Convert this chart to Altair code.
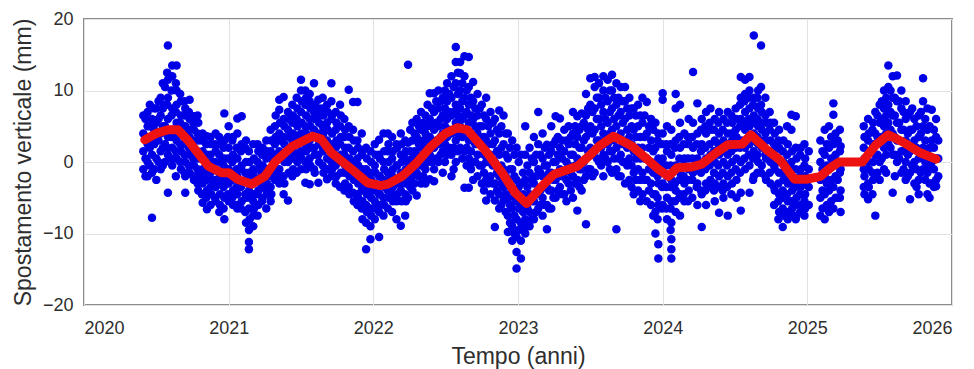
import altair as alt
import pandas as pd

# GNSS vertical displacement: daily solutions grouped by epoch (decimal year, [mm, ...])
pts_2020 = [
    (2020.41, [6.5, 4, 1.5, -1]),
    (2020.44, [7, 5, 2.5, 0, -2]),
    (2020.47, [6, 3.5, 1, -1.5, -7.8]),
    (2020.50, [7.5, 5.5, 3, 0.5, -2.5]),
    (2020.53, [9, 6.5, 4, 1.5, -1]),
    (2020.56, [10.5, 8, 5, 2.5, 0]),
    (2020.58, [16.3, 11.5, 9, 6, 3.5, 1, -4.3]),
    (2020.61, [13.5, 12, 7.5, 4.5, 2, -0.5]),
    (2020.64, [13.5, 10, 8, 5.5, 3, 0.5]),
    (2020.67, [8.5, 6.5, 4, 1.5, -1]),
    (2020.70, [7.5, 5, 2.5, 0, -2, -4.3]),
    (2020.73, [8.7, 6, 3.5, 1, -1.5]),
    (2020.76, [6.4, 4.5, 2, -0.5, -2.5]),
    (2020.79, [5.5, 3, 0.5, -2, -4]),
    (2020.82, [4, 1.5, -1, -3, -5.7]),
    (2020.85, [3.6, 1, -1.5, -4, -6.6]),
    (2020.88, [2.5, 0, -2.5, -4.5]),
    (2020.91, [4, 1.5, -1, -3.5, -5.5]),
    (2020.94, [2.5, 0, -2, -4.5, -6]),
    (2020.97, [6.8, 3, 0.5, -2.5, -5, -8]),
]
pts_2020b = [
    (2020.425, [6, 3.5, 0.5, -2]),
    (2020.455, [8, 5, 2, -0.5]),
    (2020.485, [7.5, 4.5, 2.5, -1]),
    (2020.515, [8.5, 6, 3, 0]),
    (2020.545, [11, 7.5, 5, 2, -0.5]),
    (2020.575, [12.5, 8, 4.5, 2]),
    (2020.605, [10, 6.5, 3.5, 0.5]),
    (2020.635, [11, 7, 4, 1.5, -2]),
    (2020.665, [9.5, 5.5, 2.5, 0]),
    (2020.695, [8.5, 6.5, 3.5, 1, -1.5]),
    (2020.725, [7, 4.5, 2, -0.5]),
    (2020.755, [5.5, 3, 0.5, -2]),
    (2020.785, [6.5, 4, 1.5, -1, -3]),
    (2020.815, [3, 0.5, -2, -4.5]),
    (2020.845, [2.5, 0, -2.5, -5]),
    (2020.875, [3.5, 1, -1.5, -3.5, -6]),
    (2020.905, [2.5, 0, -2.5, -5]),
    (2020.935, [3.5, 1, -1.5, -3, -7]),
    (2020.965, [2, -0.5, -3.5, -6.5]),
    (2020.995, [3.5, 0.5, -2, -4.5]),
]

pts_2021 = [
    (2021.00, [5, 2, -1, -3, -5.5]),
    (2021.03, [3.5, 1, -1.5, -4, -6]),
    (2021.06, [6.1, 4, 0.5, -2, -4.5, -6.5]),
    (2021.09, [6.4, 2.5, -0.5, -3, -5.5]),
    (2021.12, [3, 0, -2.5, -5, -8.5]),
    (2021.14, [1.5, -1.5, -4, -6.5, -9.5, -11.2, -12.2]),
    (2021.17, [2.5, -1, -3, -5.5, -7.5, -9]),
    (2021.20, [2.5, 0, -2.5, -4.5, -7.5]),
    (2021.23, [1, -1.5, -3.5, -5.5]),
    (2021.26, [3, 0.5, -2, -4, -6.5]),
    (2021.29, [4.5, 1.5, -1, -3.5, -5.5]),
    (2021.32, [5, 2.5, 0, -2.5]),
    (2021.35, [8.7, 7.3, 4, 1.5, -1, -3]),
    (2021.38, [9.1, 6, 3.5, 1, -2, -4.5]),
    (2021.41, [7, 4.5, 2, 0, -5.4]),
    (2021.44, [8, 5.5, 3, 0.5, -2]),
    (2021.47, [9, 6, 3.5, 1, -1.5]),
    (2021.50, [11.5, 10, 7, 4, 1.5, -1]),
    (2021.53, [10, 8, 5, 2.5, 0, -2.9]),
    (2021.56, [9.5, 8.5, 6, 3, 0.5, -3.1]),
    (2021.59, [11, 7, 4.5, 2, -1]),
    (2021.62, [8.7, 6.5, 4, 1, -2.9]),
    (2021.65, [9, 7.5, 5, 2, -0.5]),
    (2021.68, [8, 5.5, 3, 0.5, -2.4]),
    (2021.71, [11, 8.5, 6, 2.5, 0, -2]),
    (2021.74, [7, 4.5, 2, -0.5, -3]),
    (2021.77, [8, 5, 2.5, 0, -3.5]),
    (2021.80, [6, 3.5, 1, -1.5, -4]),
    (2021.83, [10.1, 5, 2, -1, -3.5]),
    (2021.86, [8.4, 4.5, 1.5, -1.5, -4.3]),
    (2021.89, [8.4, 3, 0.5, -2, -4.5, -6]),
    (2021.92, [4, 1, -2, -4, -6.5]),
    (2021.95, [2, -1, -3.5, -6, -8.5, -12.2]),
    (2021.98, [1.5, -1.5, -4, -6.5, -9, -10.8]),
]
pts_2021b = [
    (2021.025, [3, 0, -2.5, -5]),
    (2021.055, [2, -1, -3.5, -6]),
    (2021.085, [1.5, -1, -3.5, -6.5]),
    (2021.115, [2, -1.5, -4.5, -7]),
    (2021.145, [0, -2.5, -5, -8]),
    (2021.175, [0.5, -2, -4.5, -6.5]),
    (2021.205, [1.5, -1, -4, -6]),
    (2021.235, [2, -0.5, -3, -5]),
    (2021.265, [1.5, -1, -3, -4.5]),
    (2021.295, [3, 0.5, -2, -4.5]),
    (2021.325, [6.5, 3.5, 1, -1.5]),
    (2021.355, [5.5, 3, 0.5, -2]),
    (2021.385, [5, 2.5, 0, -3]),
    (2021.415, [6, 3.5, 1, -1.5]),
    (2021.445, [6.5, 4, 1.5, -1]),
    (2021.475, [7.5, 5, 2.5, 0]),
    (2021.505, [8.5, 5.5, 3, 0.5]),
    (2021.535, [9, 6.5, 4, 1.5, -1]),
    (2021.565, [7.5, 5, 2, -0.5]),
    (2021.595, [8, 6, 3.5, 1, -1.5]),
    (2021.625, [7.5, 5.5, 2.5, 0]),
    (2021.655, [6.5, 4, 1.5, -1.5]),
    (2021.685, [7, 4.5, 2, -1]),
    (2021.715, [6.5, 4, 1.5, -1]),
    (2021.745, [5.5, 3, 0.5, -2]),
    (2021.775, [6.5, 3.5, 1, -1.5]),
    (2021.805, [4.5, 2, -0.5, -3]),
    (2021.835, [3.5, 0.5, -2, -4.5]),
    (2021.865, [3, 0, -2.5, -5.5]),
    (2021.895, [2, -0.5, -3, -5]),
    (2021.925, [1.5, -1, -3.5, -5.5, -8]),
    (2021.955, [0.5, -2, -4.5, -7]),
    (2021.985, [0, -2.5, -5, -7.5]),
]

pts_2022 = [
    (2022.01, [2.5, -0.5, -3, -5.5, -8]),
    (2022.04, [3.1, 1, -2, -4.5, -7, -10.5]),
    (2022.07, [4, 0, -2.5, -5, -7.5]),
    (2022.10, [4, 1.5, -1.5, -4, -6.5]),
    (2022.13, [3.5, 0.5, -2, -4.5, -7]),
    (2022.16, [2.5, -0.5, -3, -5.5, -8]),
    (2022.19, [4, 1, -1.5, -4, -8.9]),
    (2022.22, [3, 0.5, -2, -4.5, -7.5]),
    (2022.24, [13.6, 2.7, 0, -2.5, -5]),
    (2022.27, [5.5, 3, 0.5, -2, -4]),
    (2022.30, [6, 3.5, 1, -1.5, -4.7]),
    (2022.33, [7, 4.5, 2, -0.5, -3]),
    (2022.36, [6.5, 4, 1.5, -1, -3]),
    (2022.39, [9.6, 6, 3.5, 1, -2.4]),
    (2022.42, [9.6, 7, 4.5, 2, -1, -2.7]),
    (2022.45, [10, 7.5, 5, 2.5, 0]),
    (2022.48, [9, 6.5, 4, 1.5, -1.5]),
    (2022.51, [11, 8.5, 6, 3.5, 1]),
    (2022.54, [12, 9, 6.5, 4, 1, -2]),
    (2022.57, [16.1, 14, 11, 8, 5.5, 3, 0]),
    (2022.60, [14, 12.4, 10, 7.5, 5, 2]),
    (2022.63, [14.8, 12, 9, 6.5, 4, 1.5, -3.6]),
    (2022.66, [14.7, 10.5, 8, 5.5, 3, 0.5, -3.6]),
    (2022.69, [11.2, 8.5, 6, 3, 0, -2.5]),
    (2022.72, [9.5, 6.5, 4, 1, -2]),
    (2022.75, [8, 5, 2.5, -0.5, -3]),
    (2022.78, [9, 6, 3, 0, -2.5, -5.4]),
    (2022.81, [7, 4, 1, -2, -4.5]),
    (2022.84, [6, 3, 0, -3, -5.4, -9.1]),
    (2022.87, [7.2, 4, 1, -2, -4.5, -6.5]),
    (2022.90, [6.5, 2.5, -1, -3.5, -5.4]),
    (2022.93, [4, 0.5, -2.5, -5, -7.5, -9.8]),
    (2022.96, [3, -1, -4, -6.5, -9, -11]),
    (2022.99, [2, -2.5, -5.5, -8, -10.5, -12.6, -14.9]),
]
pts_2022b = [
    (2022.015, [1, -1.5, -4, -6.5]),
    (2022.045, [0.5, -2, -4.5, -6]),
    (2022.075, [1.5, -1, -3.5, -6]),
    (2022.105, [2.5, 0, -2.5, -5]),
    (2022.135, [1.5, -1, -3.5, -5.5]),
    (2022.165, [2, -0.5, -2.5, -4.5]),
    (2022.195, [2.5, 0, -3, -5.5]),
    (2022.225, [1.5, -1, -3, -5.5]),
    (2022.255, [4.5, 1.5, -1, -3.5]),
    (2022.285, [4, 1.5, -1, -3]),
    (2022.315, [5, 2.5, 0, -2]),
    (2022.345, [5.5, 3, 0.5, -2]),
    (2022.375, [8, 5, 2.5, 0]),
    (2022.405, [7.5, 5, 2.5, 0]),
    (2022.435, [8.5, 5.5, 3, 0.5]),
    (2022.465, [8.5, 6, 3.5, 1]),
    (2022.495, [10, 7.5, 5, 2.5, 0]),
    (2022.525, [9.5, 7, 4.5, 2]),
    (2022.555, [10.5, 7, 4.5, 2, -1]),
    (2022.585, [12.5, 9.5, 6.5, 4, 1.5]),
    (2022.615, [11, 8.5, 6, 3.5, 0.5]),
    (2022.645, [10, 7, 4.5, 2, -0.5]),
    (2022.675, [9, 6.5, 4, 1.5, -1]),
    (2022.705, [7.5, 5, 2.5, 0]),
    (2022.735, [7.5, 5, 2.5, -0.5]),
    (2022.765, [6.5, 3.5, 1, -1.5, -4]),
    (2022.795, [5, 2.5, 0, -3]),
    (2022.825, [5.5, 2.5, -0.5, -3]),
    (2022.855, [4.5, 1.5, -1.5, -4]),
    (2022.885, [5, 2, -0.5, -3, -6]),
    (2022.915, [4, 1, -2, -4.5, -7]),
    (2022.945, [2, -1, -3.5, -6, -8.5]),
    (2022.975, [1, -2, -5, -7.5, -10]),
]

pts_2023 = [
    (2023.02, [1, -3, -6, -8.5, -11, -13.5]),
    (2023.05, [5, 1, -2.5, -5.5, -8, -10]),
    (2023.08, [2, -1.5, -4.5, -7, -9]),
    (2023.11, [3.5, 0, -3, -5.5, -8]),
    (2023.14, [7, 2.5, -1, -4, -6.5]),
    (2023.17, [4, 0.5, -2, -5, -7.5]),
    (2023.20, [2.4, -0.5, -3.5, -6, -9.4]),
    (2023.23, [5, 1.5, -1.5, -4, -6.5]),
    (2023.26, [6.4, 3, 0, -2.5, -5]),
    (2023.29, [6.1, 2, -1, -3.5]),
    (2023.32, [4.5, 1.5, -1.5, -4.5]),
    (2023.35, [5, 2.5, -0.5, -3]),
    (2023.38, [7, 4, 1, -2, -5]),
    (2023.41, [6.4, 3.5, 0.5, -2.5, -6.8]),
    (2023.44, [6.8, 5, 2, -1, -4]),
    (2023.47, [9.5, 6.5, 3.5, 0.5, -2, -8.7]),
    (2023.50, [11.7, 8, 5, 2, -1]),
    (2023.53, [11.9, 10.5, 7.5, 4.5, 1.5, -1.5]),
    (2023.56, [11, 9, 6, 3, 0]),
    (2023.59, [12, 10, 7, 4, 1, -2]),
    (2023.62, [11.5, 8.5, 5.5, 2.5, 0]),
    (2023.65, [12.2, 10, 7.5, 4.5, 1.5, -1.5]),
    (2023.68, [11, 8, 5, 2, -1, -9.4]),
    (2023.71, [10.5, 7, 4, 1, -2]),
    (2023.74, [10.5, 8.5, 6, 3, 0, -3]),
    (2023.77, [9, 6.5, 3.5, 0.5, -2.5]),
    (2023.80, [7.5, 4.5, 1.5, -1.5, -4.5]),
    (2023.83, [8, 5, 2, -1, -4]),
    (2023.86, [9, 5.5, 2, -1.5, -4.5]),
    (2023.89, [8.4, 4, 0.5, -2.5, -5.5]),
    (2023.92, [6, 3, 0, -3, -6]),
    (2023.95, [5.5, 2, -1.5, -4.5, -7, -10]),
    (2023.97, [4, 0.5, -3, -6, -11.5, -13.5]),
]
pts_2023b = [
    (2023.005, [0, -3.5, -6.5, -9.5]),
    (2023.035, [-1.5, -4.5, -7, -9.5]),
    (2023.065, [-0.5, -3.5, -6.5, -9]),
    (2023.095, [0.5, -2.5, -5.5, -8]),
    (2023.125, [1, -2, -4.5, -7]),
    (2023.155, [1, -1.5, -4, -6]),
    (2023.185, [2, -0.5, -3.5, -6]),
    (2023.215, [1, -1.5, -4, -6.5]),
    (2023.245, [2.5, 0, -2.5, -5]),
    (2023.275, [3.5, 1, -1.5, -4]),
    (2023.305, [3, 0.5, -2, -4.5]),
    (2023.335, [3, 0, -2.5, -5.5]),
    (2023.365, [3.5, 1, -1.5, -4]),
    (2023.395, [5, 2.5, -0.5, -3]),
    (2023.425, [4.5, 2, -1, -3.5]),
    (2023.455, [5.5, 3, 0, -2.5]),
    (2023.485, [7.5, 4.5, 1.5, -1]),
    (2023.515, [7, 4, 1, -2]),
    (2023.545, [9, 6, 3, 0.5]),
    (2023.575, [8, 5, 2, -0.5]),
    (2023.605, [9, 6, 3, 0.5]),
    (2023.635, [10, 7, 4, 1.5, -1]),
    (2023.665, [9, 6, 3, 0.5]),
    (2023.695, [9, 6.5, 3.5, 0.5, -2]),
    (2023.725, [8.5, 5.5, 2.5, 0]),
    (2023.755, [7.5, 4.5, 2, -0.5]),
    (2023.785, [7.5, 5, 2.5, -0.5, -3.5]),
    (2023.815, [6.5, 3.5, 0.5, -2.5]),
    (2023.845, [6.5, 3.5, 0.5, -2.5, -5.5]),
    (2023.875, [6.5, 3.5, 0.5, -2.5]),
    (2023.905, [5, 2, -1, -4]),
    (2023.935, [4.5, 1.5, -1.5, -4.5, -7.5]),
    (2023.965, [3, 0, -2, -5, -8]),
    (2023.995, [2.5, -0.5, -3.5, -6.5]),
]

pts_2024 = [
    (2024.00, [9.6, 8.7, 4, 0.5, -3, -6]),
    (2024.03, [5, 1.5, -2, -5, -8]),
    (2024.06, [4.5, 1, -2.5, -5.5, -8.5, -10.8, -12.2, -13.5]),
    (2024.09, [9.5, 7.5, 3, -0.5, -4, -7]),
    (2024.12, [8, 5.5, 2, -1.5, -4.5, -7.5]),
    (2024.15, [4, 0.5, -3, -5.5]),
    (2024.18, [6, 2.5, -1, -4]),
    (2024.21, [12.6, 5.5, 2, -1.5]),
    (2024.24, [8.2, 4, 0.5, -3, -6]),
    (2024.27, [6, 2.5, -1, -4.5, -9.1]),
    (2024.30, [7, 4, 0.5, -3, -6]),
    (2024.33, [7.5, 4.5, 1, -2.5]),
    (2024.36, [6, 3, 0, -3, -5.5]),
    (2024.39, [7, 4, 1, -2, -7.1]),
    (2024.42, [6, 3, 0, -3, -5]),
    (2024.45, [7, 4, 1, -2, -7.5]),
    (2024.48, [5.5, 3, 0, -3]),
    (2024.51, [6, 3.5, 0.5, -2.5, -5]),
    (2024.54, [11.9, 9, 6, 3, 0, -4.3, -6.8]),
    (2024.57, [11.5, 9.5, 7, 4.5, 2, -1]),
    (2024.60, [11.9, 10, 7.5, 5, 2.5, -0.5, -4.3]),
    (2024.63, [17.7, 9, 6.5, 4, 1.5, -2]),
    (2024.66, [10, 7.5, 5, 2.5, 0]),
    (2024.68, [16.3, 10.5, 8, 5.5, 3, -1.5]),
    (2024.71, [9, 6.5, 4, 1, -2]),
    (2024.74, [7, 4.5, 1.5, -1.5]),
    (2024.77, [5.5, 2.5, -0.5, -3.5, -6]),
    (2024.80, [3, 0, -3, -5.5, -8]),
    (2024.83, [1.5, -1.5, -4, -6.5, -9.1]),
    (2024.86, [5, 1, -2, -4.5, -7]),
    (2024.89, [6.6, 4.5, 0, -3, -5.5, -7.5]),
    (2024.92, [6.4, 2, -1, -3.5, -6, -8]),
    (2024.95, [1, -2, -4.5, -7]),
    (2024.98, [2.5, -0.5, -3, -5.5, -7.5]),
]
pts_2024b = [
    (2024.025, [2.5, -0.5, -3.5, -6.5]),
    (2024.055, [2.5, -0.5, -3.5, -6.5, -9.5]),
    (2024.085, [2, -1, -3, -5.5]),
    (2024.115, [3.5, 0.5, -2.5, -5]),
    (2024.145, [2.5, -0.5, -2, -4.5]),
    (2024.175, [3.5, 0.5, -2.5, -5.5]),
    (2024.205, [3.5, 0.5, -2.5, -5]),
    (2024.235, [2.5, -1, -3.5]),
    (2024.265, [4.5, 1.5, -1.5, -4]),
    (2024.295, [5, 2, -1, -4]),
    (2024.325, [5.5, 2.5, -0.5, -3.5]),
    (2024.355, [4.5, 1.5, -1.5, -4]),
    (2024.385, [5.5, 2.5, -0.5, -3.5]),
    (2024.415, [4.5, 1.5, -1.5, -4]),
    (2024.445, [5.5, 2.5, -0.5, -3.5]),
    (2024.475, [6.5, 4, 1.5, -1.5, -4.5]),
    (2024.505, [7.5, 4.5, 2, -1]),
    (2024.535, [8, 5, 2, -1.5]),
    (2024.565, [8.5, 5.5, 3, 0.5]),
    (2024.595, [9, 6, 3.5, 1]),
    (2024.625, [8, 5.5, 3, 0.5, -2.5]),
    (2024.655, [9, 6, 3.5, 1, -1.5]),
    (2024.685, [7, 4.5, 2, -0.5]),
    (2024.715, [5.5, 3, 0.5, -2.5]),
    (2024.745, [5.5, 3, 0, -3]),
    (2024.775, [4, 1.5, -1, -4]),
    (2024.805, [4.5, 2, -1.5, -4.5, -7]),
    (2024.835, [3, 0, -2.5, -5, -7.5]),
    (2024.865, [2.5, -0.5, -3, -5.5, -8]),
    (2024.895, [1.5, -1, -4, -6.5]),
    (2024.925, [0.5, -2.5, -5, -7.5]),
    (2024.955, [2, -1, -3.5, -6]),
    (2024.985, [0.5, -2, -4.5, -6.5]),
]

pts_2025 = [
    (2025.01, [1.5, -1, -3.5, -6]),
    (2025.09, [3, 0, -2.5, -5, -7.5]),
    (2025.12, [4.5, 1, -2, -4.5, -8]),
    (2025.15, [5, 2, -1, -4, -7]),
    (2025.18, [8.2, 6.6, 2.5, -0.5, -3.5, -6.5]),
    (2025.21, [3, 0, -2.5, -5]),
    (2025.23, [2.2, -1, -4, -7]),
    (2025.39, [5, 2, -1, -3.5]),
    (2025.42, [6, 3, 0, -3, -5.2]),
    (2025.45, [4.5, 1.5, -1.5, -4.5]),
    (2025.47, [7, 4, 1, -2, -7.5]),
    (2025.50, [8, 5.5, 3, 0, -2.5]),
    (2025.53, [10, 7.5, 5, 2, -1]),
    (2025.56, [13.5, 10.5, 8, 5.5, 2.5]),
    (2025.59, [12, 9, 6.5, 4, 1, -4.3]),
    (2025.62, [12.1, 8.5, 5.5, 3, 0]),
    (2025.65, [10, 7.5, 4.5, 1.5, -1.5]),
    (2025.68, [8.5, 6, 3, 0, -2.5]),
    (2025.71, [7, 4.5, 1.5, -1.5, -5.2]),
    (2025.74, [6, 3, 0, -3]),
    (2025.77, [6.5, 3.5, 0.5, -2.5, -4.5]),
    (2025.80, [11.7, 8.5, 5, 2, -1]),
    (2025.83, [7.5, 4.5, 1.5, -1.5, -4.5]),
    (2025.86, [7.3, 3, 0, -3]),
    (2025.89, [6, 3.5, 0.5, -2.5, -3.4]),
]
pts_2025b = [
    (2025.105, [1.5, -1, -4, -6.5]),
    (2025.135, [2.5, -0.5, -3, -6]),
    (2025.165, [3.5, 0.5, -2.5, -5.5]),
    (2025.195, [4, 1, -2, -5]),
    (2025.225, [4.5, 1.5, -1.5, -5]),
    (2025.395, [3.5, 0.5, -2, -4.5]),
    (2025.425, [4, 1.5, -1, -3.5]),
    (2025.455, [5.5, 2.5, 0, -2.5]),
    (2025.485, [6.5, 3.5, 1, -1.5]),
    (2025.515, [8.5, 6, 3.5, 0.5]),
    (2025.545, [9, 6.5, 4, 1, -1.5]),
    (2025.575, [10, 7, 4.5, 2]),
    (2025.605, [9, 6.5, 3.5, 1, -2]),
    (2025.635, [8.5, 5.5, 3, 0.5]),
    (2025.665, [7, 4.5, 1.5, -1]),
    (2025.695, [6.5, 4, 1, -2]),
    (2025.725, [7.5, 4.5, 2, -0.5]),
    (2025.755, [5, 2, -1, -3.5]),
    (2025.785, [7, 4, 1.5, -1.5]),
    (2025.815, [6, 3, 0, -2.5]),
    (2025.845, [5, 2, -0.5, -3, -5]),
    (2025.875, [4.5, 2, -1, -3.5]),
    (2025.905, [3, 0.5, -2]),
]

# Smoothed displacement curve (decimal year, mm)
trend_t = [
    2020.42, 2020.50, 2020.58, 2020.65, 2020.72, 2020.77, 2020.86, 2020.95,
    2021.00, 2021.06, 2021.16, 2021.25, 2021.32, 2021.44, 2021.58, 2021.64,
    2021.71, 2021.85, 2021.96, 2022.05, 2022.10, 2022.20, 2022.29, 2022.40,
    2022.50, 2022.58, 2022.65, 2022.77, 2022.89, 2022.98, 2023.06, 2023.17,
    2023.25, 2023.35, 2023.41, 2023.50, 2023.56, 2023.66, 2023.79, 2023.88,
    2023.97, 2024.04, 2024.10, 2024.20, 2024.27, 2024.37, 2024.45, 2024.55,
    2024.61, 2024.72, 2024.81, 2024.91, 2025.00, 2025.09, 2025.16, 2025.22,
    2025.38, 2025.47, 2025.56, 2025.66, 2025.78, 2025.89,
]
trend_v = [
    3.1, 4.0, 4.5, 4.5, 3.0, 1.7, -0.6, -1.5,
    -1.5, -2.4, -3.1, -2.0, 0.0, 2.2, 3.6, 3.2,
    1.3, -1.0, -2.9, -3.3, -3.1, -2.0, -0.3, 2.2,
    4.0, 4.8, 4.5, 1.7, -1.5, -4.3, -5.8, -3.3,
    -1.7, -1.0, -0.6, 1.0, 2.2, 3.6, 2.2, 0.6,
    -1.0, -2.0, -0.8, -0.7, -0.3, 1.3, 2.4, 2.5,
    3.8, 1.7, 0.3, -2.4, -2.4, -2.0, -0.8, 0.0,
    0.0, 2.3, 3.8, 2.8, 1.3, 0.4,
]

year_ticks = [2020, 2021, 2022, 2023, 2024, 2025, 2026]
mm_ticks = [-20, -10, 0, 10, 20]

groups = (
    pts_2020, pts_2020b, pts_2021, pts_2021b, pts_2022, pts_2022b,
    pts_2023, pts_2023b, pts_2024, pts_2024b, pts_2025, pts_2025b,
)
rows = []
for group in groups:
    for t, values in group:
        for v in values:
            rows.append({"t": t, "v": v})
obs = pd.DataFrame(rows)
trend = pd.DataFrame({"t": trend_t, "v": trend_v})

FONT = "Liberation Sans"
TEXT = "#2e2e2e"

x_enc = alt.X(
    "t:Q",
    scale=alt.Scale(domain=[2020, 2026], nice=False, zero=False),
    axis=alt.Axis(
        values=year_ticks, format="d", title="Tempo (anni)",
        labelPadding=14, titleY=51, titleBaseline="middle",
    ),
)
y_enc = alt.Y(
    "v:Q",
    scale=alt.Scale(domain=[-20, 20], nice=False),
    axis=alt.Axis(
        values=mm_ticks, title="Spostamento verticale (mm)",
        labelPadding=11, titleX=-61, titleY=143,
        titleBaseline="middle", titleAlign="center", titleAngle=-90,
    ),
)

dots = alt.Chart(obs).mark_circle(size=72, color="#0000e6", opacity=1).encode(x=x_enc, y=y_enc)
curve = alt.Chart(trend).mark_line(
    color="#ee1111", strokeWidth=9, strokeCap="round", strokeJoin="round"
).encode(x="t:Q", y="v:Q")

chart = (
    alt.layer(dots, curve)
    .properties(
        width=868, height=286,
        autosize=alt.AutoSizeParams(type="none"),
        padding={"left": 84, "top": 19, "right": 22, "bottom": 64},
        background="white",
    )
    .configure_view(stroke="#8c8c8c", strokeWidth=2)
    .configure_axis(
        grid=True, gridColor="#e2e2e2", gridWidth=1,
        domain=False, ticks=False, tickSize=0,
        labelFont=FONT, labelFontSize=18, labelColor=TEXT,
        titleFont=FONT, titleFontSize=23, titleColor=TEXT, titleFontWeight="normal",
    )
)

chart.save("out.html", embed_options={"renderer": "svg", "actions": False})
